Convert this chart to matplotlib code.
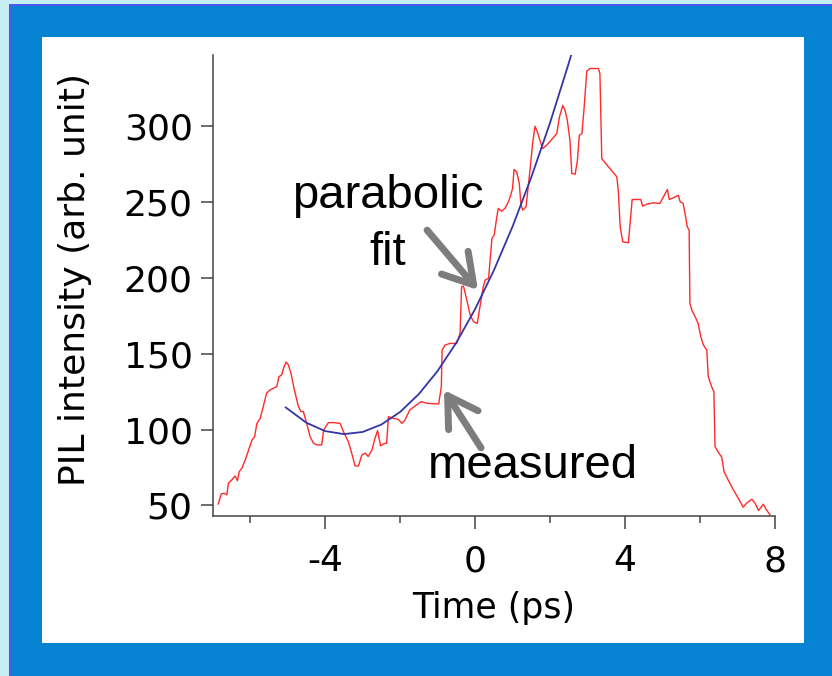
import matplotlib
matplotlib.use('Agg')
import matplotlib.pyplot as plt
from matplotlib.patches import Rectangle

plt.rcParams['font.family'] = ['DejaVu Sans']
plt.rcParams['axes.unicode_minus'] = False

# measured PIL intensity
time_ps = [-6.85, -6.77, -6.69, -6.62, -6.58, -6.49, -6.40, -6.34, -6.29, -6.22,
           -6.13, -6.04, -5.95, -5.88, -5.82, -5.73, -5.64, -5.56, -5.47, -5.38,
           -5.29, -5.23, -5.16, -5.10, -5.04, -4.98, -4.91, -4.82, -4.71, -4.64,
           -4.58, -4.49, -4.40, -4.31, -4.22, -4.09, -4.04, -3.91, -3.78, -3.60,
           -3.51, -3.38, -3.29, -3.20, -3.11, -3.02, -2.93, -2.85, -2.75, -2.67,
           -2.60, -2.52, -2.45, -2.36, -2.31, -2.18, -2.05, -1.95, -1.87, -1.74,
           -1.44, -1.28, -0.97, -0.90, -0.88, -0.80, -0.67, -0.49, -0.40, -0.36,
           -0.31, -0.22, -0.13, -0.04, 0.06, 0.13, 0.22, 0.27, 0.36, 0.40,
           0.45, 0.51, 0.58, 0.62, 0.71, 0.80, 0.89, 0.95, 1.00, 1.04,
           1.11, 1.18, 1.22, 1.27, 1.36, 1.45, 1.54, 1.60, 1.66, 1.73,
           1.80, 1.91, 2.04, 2.18, 2.25, 2.34, 2.40, 2.46, 2.53, 2.58,
           2.67, 2.73, 2.78, 2.85, 2.91, 2.98, 3.07, 3.29, 3.33, 3.38,
           3.56, 3.78, 3.82, 3.87, 3.94, 4.09, 4.15, 4.19, 4.42, 4.47,
           4.58, 4.75, 4.93, 5.00, 5.13, 5.18, 5.31, 5.42, 5.47, 5.55,
           5.60, 5.66, 5.71, 5.73, 5.78, 5.87, 5.95, 6.02, 6.09, 6.18,
           6.22, 6.31, 6.37, 6.40, 6.49, 6.58, 6.64, 6.75, 6.89, 7.02,
           7.15, 7.24, 7.38, 7.47, 7.56, 7.69, 7.76, 7.87]
measured = [50.9, 57.6, 58.0, 56.9, 64.6, 66.8, 69.4, 66.3, 72.3, 74.5,
            80.0, 86.6, 93.1, 95.3, 104.0, 107.4, 116.2, 124.0, 126.1, 127.2,
            128.3, 134.9, 136.0, 141.0, 144.5, 142.6, 137.1, 126.1, 115.1, 111.8,
            111.8, 104.0, 95.3, 91.0, 89.9, 89.9, 99.7, 104.6, 104.6, 104.1,
            98.6, 92.0, 84.4, 76.0, 76.0, 83.3, 84.4, 82.2, 86.6, 94.2,
            99.3, 89.2, 90.5, 91.0, 108.5, 107.4, 106.8, 104.1, 106.3, 113.0,
            118.4, 117.3, 116.9, 128.3, 152.4, 155.7, 156.8, 156.8, 163.4, 194.2,
            194.6, 185.4, 175.5, 171.1, 170.0, 181.0, 194.2, 198.6, 199.7, 211.7,
            226.0, 228.2, 240.3, 245.8, 244.0, 246.0, 250.2, 254.5, 259.0, 271.5,
            269.9, 262.2, 249.1, 244.7, 246.9, 267.7, 289.7, 300.0, 296.3, 290.8,
            285.3, 287.5, 291.2, 295.2, 306.1, 313.8, 310.5, 304.0, 290.8, 268.8,
            268.4, 277.6, 294.1, 295.2, 312.7, 336.4, 338.1, 338.1, 334.8, 278.7,
            273.2, 266.7, 257.8, 233.7, 223.8, 223.2, 240.3, 251.7, 251.7, 247.3,
            248.6, 249.5, 249.1, 252.4, 258.3, 251.7, 253.1, 254.5, 250.2, 249.1,
            242.5, 233.7, 231.5, 183.2, 178.8, 174.4, 170.0, 161.3, 155.8, 152.4,
            134.9, 128.3, 125.0, 88.8, 84.9, 81.8, 72.3, 66.8, 60.2, 54.7,
            48.8, 51.4, 54.0, 51.4, 46.6, 50.8, 47.5, 43.7]

# parabolic fit curve
fit_time = [-5.05, -4.5, -4.0, -3.5, -3.0, -2.5, -2.0, -1.5, -1.0,
            -0.5, 0.0, 0.5, 1.0, 1.5, 2.0, 2.5, 2.58]
fit_value = [114.6, 104.5, 99.0, 97.0, 98.4, 103.3, 111.6, 123.4, 138.6,
             157.3, 179.4, 204.9, 233.9, 266.4, 302.3, 341.7, 348.3]

x_major = [-4, 0, 4, 8]
x_minor = [-6, -2, 2, 6]
y_ticks = [50, 100, 150, 200, 250, 300]

W, H = 832, 676
fig = plt.figure(figsize=(W / 100, H / 100), dpi=100, facecolor='#c6eef5')

# slide background: blue frame with white panel
fig.patches.append(Rectangle((9 / W, 0), 1, (H - 4) / H, transform=fig.transFigure,
                             facecolor='#5057ee', edgecolor='none', zorder=-3))
fig.patches.append(Rectangle((11 / W, 0), 1, (H - 6) / H, transform=fig.transFigure,
                             facecolor='#0683d2', edgecolor='none', zorder=-2))
fig.patches.append(Rectangle((42 / W, 33 / H), 762 / W, 606 / H, transform=fig.transFigure,
                             facecolor='white', edgecolor='none', zorder=-1))

ax = fig.add_axes([213 / W, 1 - 516 / H, 562 / W, 461 / H])
ax.set_facecolor('white')

ax.plot(time_ps, measured, color='#ff2a2a', lw=1.0)
ax.plot(fit_time, fit_value, color='#3535a5', lw=1.3)

ax.set_xlim(-6.99, 8.0)
ax.set_ylim(43, 347)

for s in ['top', 'right']:
    ax.spines[s].set_visible(False)
for s in ['left', 'bottom']:
    ax.spines[s].set_color('#444444')
    ax.spines[s].set_linewidth(1.1)

ax.set_xticks(x_major)
ax.set_xticks(x_minor, minor=True)
ax.set_yticks(y_ticks)
ax.tick_params(axis='x', which='major', length=9.4, width=1.1, pad=11,
               labelsize=26, color='#444444')
ax.tick_params(axis='x', which='minor', length=5, width=1.1, color='#444444')
ax.tick_params(axis='y', length=8.6, width=1.1, pad=6, labelsize=26, color='#444444')

ax.set_xlabel('Time (ps)', fontsize=25, labelpad=9)
ax.set_ylabel('PIL intensity (arb. unit)', fontsize=26)
ax.yaxis.set_label_coords(-0.2153, 0.512)

# annotations
ann_font = dict(family='Liberation Sans', size=34, color='black', ha='center', va='baseline')
ax.text(-2.33, 246, 'parabolic', **ann_font)
ax.text(-2.33, 208.4, 'fit', **ann_font)
ax.text(1.53, 68.1, 'measured', **ann_font)

arrow = dict(arrowstyle='->,head_length=0.75,head_width=0.45', lw=5, color='#7d7d7d',
             shrinkA=0, shrinkB=0, mutation_scale=28)
ax.annotate('', xy=(0.08, 192), xytext=(-1.28, 231.5), arrowprops=arrow)
ax.annotate('', xy=(-0.83, 126.1), xytext=(0.16, 87.9), arrowprops=arrow)

fig.savefig('out.png', dpi=100, facecolor=fig.get_facecolor())
